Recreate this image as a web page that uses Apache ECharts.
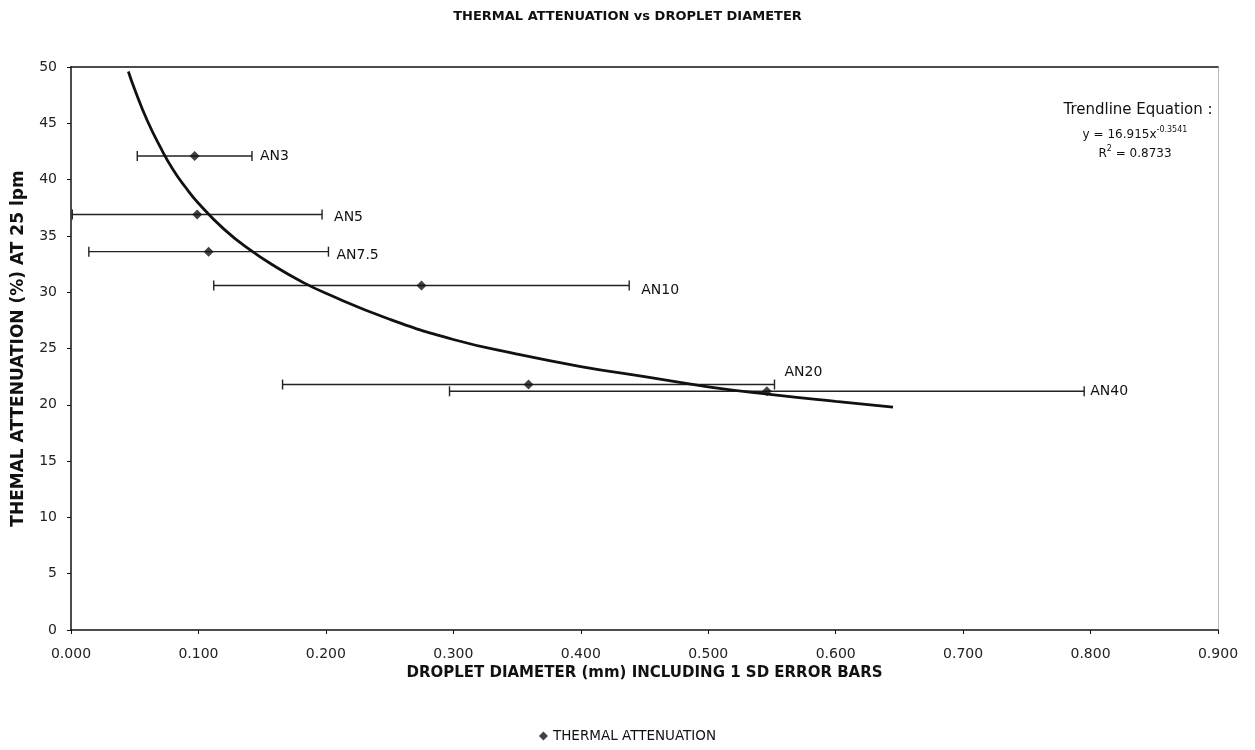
<!DOCTYPE html>
<html><head><meta charset="utf-8">
<script src="https://cdn.jsdelivr.net/npm/echarts/dist/echarts.min.js"></script>
<style>html,body{margin:0;padding:0;background:#fff}#c{width:1255px;height:750px}</style>
</head><body><div id="c"></div>
<script>
// ---- data ----
const sampleNames = ['AN3', 'AN5', 'AN7.5', 'AN10', 'AN20', 'AN40'];
const diameterMm  = [0.097, 0.099, 0.108, 0.275, 0.359, 0.546];
const diameterSd  = [0.045, 0.098, 0.094, 0.163, 0.193, 0.249];
const attenuation = [42.1, 36.9, 33.6, 30.6, 21.8, 21.2];
// trendline (y = 16.915x^-0.3541)
const trendX = [0.045, 0.05, 0.06, 0.07, 0.08, 0.09, 0.10, 0.12, 0.14, 0.16, 0.18, 0.20, 0.25, 0.30, 0.35, 0.40, 0.45, 0.50, 0.55, 0.60, 0.645];
const trendY = [49.6, 48.0, 45.2, 42.9, 40.9, 39.3, 37.9, 35.6, 33.8, 32.3, 31.0, 29.9, 27.6, 25.8, 24.5, 23.4, 22.5, 21.6, 20.9, 20.3, 19.8];
const xTicks = [0, 0.1, 0.2, 0.3, 0.4, 0.5, 0.6, 0.7, 0.8, 0.9];
const yTicks = [0, 5, 10, 15, 20, 25, 30, 35, 40, 45, 50];

// label offsets (style only)
const labelOffsets = [[8, 0], [12, 3], [8, 4], [12, 5], [10, -12], [6, 0]];

const FONT = '"DejaVu Sans", Arial, sans-serif';
const chart = echarts.init(document.getElementById('c'), null, {renderer: 'canvas'});

const points = diameterMm.map((d, i) => [d, attenuation[i]]);
const bars = diameterMm.map((d, i) => [d, attenuation[i], diameterSd[i], i]);
const trend = trendX.map((x, i) => [x, trendY[i]]);

chart.setOption({
  backgroundColor: '#fff',
  animation: false,
  title: {
    text: 'THERMAL ATTENUATION vs DROPLET DIAMETER',
    left: 'center', top: 5,
    textStyle: {fontFamily: FONT, fontSize: 13, fontWeight: 'bold', color: '#111'}
  },
  legend: {
    bottom: 2, left: 'center',
    data: [{name: 'THERMAL ATTENUATION', icon: 'diamond'}],
    itemWidth: 9, itemHeight: 9, itemGap: 4,
    textStyle: {fontFamily: FONT, fontSize: 13.5, color: '#111'}
  },
  grid: {left: 71, right: 37, top: 67, bottom: 120},
  xAxis: [{
    type: 'value', min: 0, max: 0.9, interval: 0.1,
    name: 'DROPLET DIAMETER (mm) INCLUDING 1 SD ERROR BARS',
    nameLocation: 'middle', nameGap: 31,
    nameTextStyle: {fontFamily: FONT, fontSize: 15, fontWeight: 'bold', color: '#111'},
    axisLine: {show: true, onZero: false, lineStyle: {color: '#111', width: 1.5}},
    axisTick: {show: true, length: 4, lineStyle: {color: '#111'}},
    axisLabel: {fontFamily: FONT, fontSize: 14, color: '#222', margin: 17,
      formatter: v => xTicks.some(t => Math.abs(t - v) < 1e-9) ? v.toFixed(3) : ''},
    splitLine: {show: false}
  }, {
    type: 'value', min: 0, max: 0.9, position: 'top',
    axisLine: {show: true, onZero: false, lineStyle: {color: '#111', width: 1.5}},
    axisTick: {show: false}, axisLabel: {show: false}, splitLine: {show: false}
  }],
  yAxis: [{
    type: 'value', min: 0, max: 50, interval: 5,
    name: 'THEMAL ATTENUATION (%) AT 25 lpm',
    nameLocation: 'middle', nameGap: 44, nameRotate: 90,
    nameTextStyle: {fontFamily: FONT, fontSize: 17, fontWeight: 'bold', color: '#111'},
    axisLine: {show: true, onZero: false, lineStyle: {color: '#111', width: 1.5}},
    axisTick: {show: true, length: 4, lineStyle: {color: '#111'}},
    axisLabel: {fontFamily: FONT, fontSize: 14, color: '#222', margin: 14,
      formatter: v => yTicks.includes(v) ? String(v) : ''},
    splitLine: {show: false}
  }, {
    type: 'value', min: 0, max: 50, position: 'right',
    axisLine: {show: true, onZero: false, lineStyle: {color: '#bbb', width: 1}},
    axisTick: {show: false}, axisLabel: {show: false}, splitLine: {show: false}
  }],
  series: [{
    name: 'error bars', type: 'custom', silent: true, z: 3,
    data: bars,
    renderItem: function (params, api) {
      const x = api.value(0), y = api.value(1), sd = api.value(2), idx = api.value(3);
      const lo = api.coord([x - sd, y]);
      const hi = api.coord([x + sd, y]);
      const h = 5;
      const st = {stroke: '#222', lineWidth: 1.4};
      const off = labelOffsets[idx];
      return {type: 'group', children: [
        {type: 'line', shape: {x1: lo[0], y1: lo[1], x2: hi[0], y2: hi[1]}, style: st},
        {type: 'line', shape: {x1: lo[0], y1: lo[1] - h, x2: lo[0], y2: lo[1] + h}, style: st},
        {type: 'line', shape: {x1: hi[0], y1: hi[1] - h, x2: hi[0], y2: hi[1] + h}, style: st},
        {type: 'text', style: {text: sampleNames[idx], x: hi[0] + off[0], y: hi[1] + off[1],
          textAlign: 'left', textVerticalAlign: 'middle', verticalAlign: 'middle',
          font: '14px ' + FONT, fill: '#111'}}
      ]};
    }
  }, {
    name: 'Trendline', type: 'line', data: trend, smooth: true,
    showSymbol: false, symbol: 'none', z: 4,
    lineStyle: {color: '#111', width: 2.8}
  }, {
    name: 'THERMAL ATTENUATION', type: 'scatter', data: points,
    symbol: 'diamond', symbolSize: 10, z: 5,
    itemStyle: {color: '#111'}
  }],
  graphic: [{
    type: 'text', x: 1138, y: 103,
    style: {text: 'Trendline Equation :', font: '15px ' + FONT, fill: '#111', textAlign: 'center'}
  }, {
    type: 'text', x: 1135, y: 126,
    style: {
      text: '{a|y = 16.915x}{s|-0.3541}',
      textAlign: 'center',
      rich: {
        a: {fontFamily: FONT, fontSize: 12, fill: '#111', color: '#111', lineHeight: 15, verticalAlign: 'bottom'},
        s: {fontFamily: FONT, fontSize: 8, fill: '#111', color: '#111', lineHeight: 15, verticalAlign: 'top', padding: [0, 0, 6, 0]}
      }
    }
  }, {
    type: 'text', x: 1135, y: 145,
    style: {
      text: '{a|R}{s|2}{a| = 0.8733}',
      textAlign: 'center',
      rich: {
        a: {fontFamily: FONT, fontSize: 12, fill: '#111', color: '#111', lineHeight: 15, verticalAlign: 'bottom'},
        s: {fontFamily: FONT, fontSize: 8, fill: '#111', color: '#111', lineHeight: 15, verticalAlign: 'top', padding: [0, 0, 6, 0]}
      }
    }
  }]
});
</script>
</body></html>
